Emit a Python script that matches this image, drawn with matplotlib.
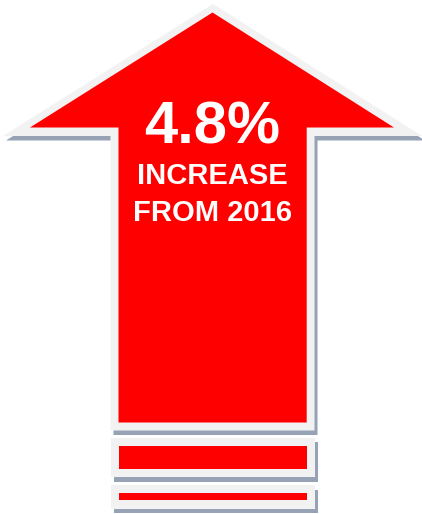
import matplotlib
matplotlib.use("Agg")
import matplotlib.pyplot as plt
from matplotlib.patches import Polygon, Rectangle

# ---- content ----
headline = "4.8%"
sub_lines = ["INCREASE", "FROM 2016"]

RED = "#ff0000"
BORDER = "#f2f2f2"
SHADOW = "#97a3b4"

W, H = 422, 514
fig = plt.figure(figsize=(W / 100, H / 100), dpi=100)
ax = fig.add_axes([0, 0, 1, 1])
ax.set_xlim(0, W)
ax.set_ylim(H, 0)
ax.axis("off")

# geometry (pixel space)
outer_arrow = [(213, 4), (422, 136), (314.5, 136), (314.5, 430.5),
               (110.5, 430.5), (110.5, 136), (3, 136)]
inner_arrow = [(212.5, 12.5), (394, 127.5), (306.7, 127.5), (306.7, 422.5),
               (118.5, 422.5), (118.5, 127.5), (30, 127.5)]
bars_outer = [(110.5, 437.5, 315, 477), (110.5, 485, 315, 508.5)]
bars_inner = [(118.5, 446, 306.7, 469), (118.5, 492.7, 306.7, 500)]

dx, dy = 3, 4.5
ax.add_patch(Polygon([(x + dx, y + dy) for x, y in outer_arrow], closed=True,
                     fc=SHADOW, ec="none", zorder=1))
ax.add_patch(Polygon(outer_arrow, closed=True, fc=BORDER, ec="none", zorder=2))
ax.add_patch(Polygon(inner_arrow, closed=True, fc=RED, ec="none", zorder=3))

for (x0, y0, x1, y1) in bars_outer:
    ax.add_patch(Rectangle((x0 + dx, y0 + dy), x1 - x0, y1 - y0, fc=SHADOW,
                           ec="none", zorder=1))
    ax.add_patch(Rectangle((x0, y0), x1 - x0, y1 - y0, fc=BORDER, ec="none",
                           zorder=2))
for (x0, y0, x1, y1) in bars_inner:
    ax.add_patch(Rectangle((x0, y0), x1 - x0, y1 - y0, fc=RED, ec="none",
                           zorder=3))

font = ["Liberation Sans", "DejaVu Sans"]
ax.text(212.5, 143, headline, color="white", fontsize=43, fontweight="bold",
        family=font, ha="center", va="baseline", zorder=5)
baselines = [184.3, 220.7]
for line, yb in zip(sub_lines, baselines):
    ax.text(212.5, yb, line, color="white", fontsize=21, fontweight="bold",
            family=font, ha="center", va="baseline", zorder=5)

fig.savefig("out.png", dpi=100, facecolor="white")
